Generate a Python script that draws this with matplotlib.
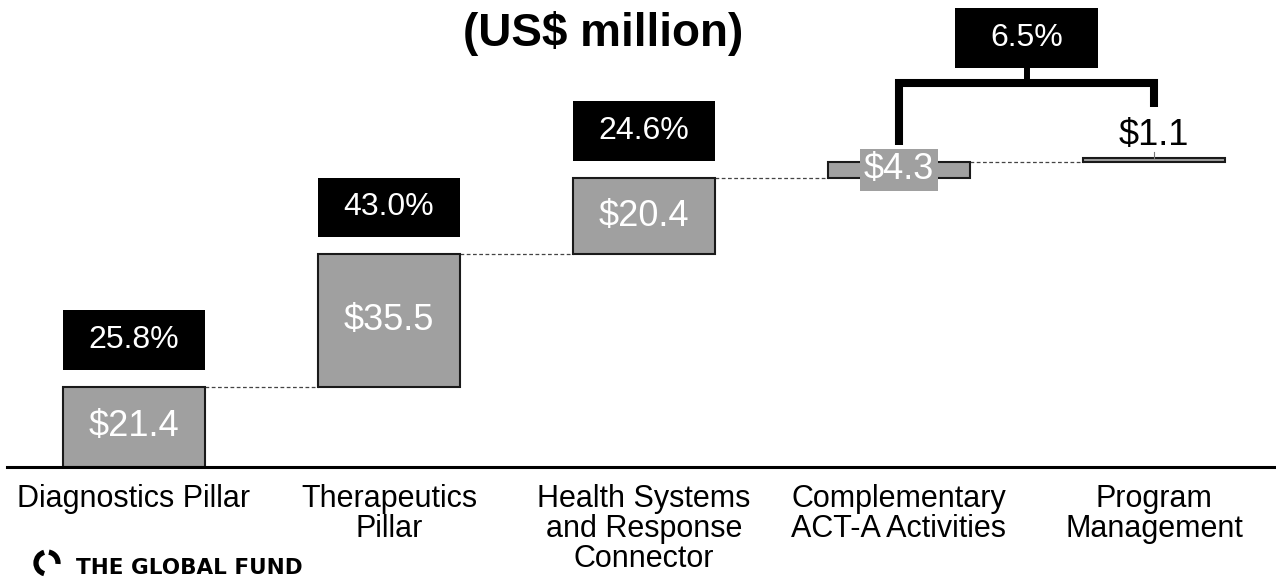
"""
Waterfall of the ACT-A allocation by component, in US$ million,
with the share of each component boxed above its bar.
"""

import matplotlib.pyplot as plt
from matplotlib.patches import Rectangle, Arc
import numpy as np

plt.rcParams['font.family'] = ['Liberation Sans', 'DejaVu Sans']

categories = ['Diagnostics Pillar', 'Therapeutics\nPillar',
              'Health Systems\nand Response\nConnector',
              'Complementary\nACT-A Activities', 'Program\nManagement']
values = [21.4, 35.5, 20.4, 4.3, 1.1]
shares = ['25.8%', '43.0%', '24.6%']
share_small = '6.5%'   # complementary activities + program management

gray = '#a0a0a0'

fig = plt.figure(figsize=(12.76, 5.78), dpi=100)
ax = fig.add_axes([0, 0, 1, 1])
ax.set_xlim(-134 / 255, (1276 - 134) / 255)
ax.set_ylim(-(578 - 467) / 3.74, 467 / 3.74)
ax.axis('off')

x = np.arange(len(values))
vals = np.array(values)
bottoms = np.concatenate([[0], np.cumsum(vals)[:-1]])
tops = bottoms + vals
total = tops[-1]
w = 0.557

ax.bar(x, vals, bottom=bottoms, width=w, color=gray, edgecolor='#1a1a1a',
       linewidth=1.5, zorder=2)

# dashed connectors between consecutive bars
for i in range(len(values) - 1):
    ax.plot([x[i] + w / 2, x[i + 1] - w / 2], [tops[i], tops[i]],
            ls=(0, (3, 2)), color='#444444', lw=0.9, zorder=1)

# baseline
ax.axhline(0, xmin=7 / 1276, color='black', lw=2.2, zorder=3)

# values inside the big bars
for i in range(3):
    ax.text(x[i], bottoms[i] + vals[i] / 2, f'${values[i]}', color='white',
            fontsize=26, ha='center', va='center', zorder=4)

# small bar: label sits on a gray patch over the bar
ax.text(x[3], bottoms[3] + vals[3] / 2, f'${values[3]}', color='white',
        fontsize=26, ha='center', va='center', zorder=4,
        bbox=dict(facecolor=gray, edgecolor='none', pad=2.5))

# tiny bar: label above with a short tick
ax.plot([x[4], x[4]], [tops[4], tops[4] + 1.6], color='#777777', lw=0.8, zorder=3)
ax.text(x[4], tops[4] + 3.4, f'${values[4]}', color='black', fontsize=26,
        ha='center', va='baseline', zorder=4)

# share boxes
box_h = 16
gap = 4.5
for i in range(3):
    ax.add_patch(Rectangle((x[i] - w / 2, tops[i] + gap), w, box_h,
                           facecolor='black', edgecolor='none', zorder=3))
    ax.text(x[i], tops[i] + gap + box_h / 2, shares[i], color='white',
            fontsize=23, ha='center', va='center', zorder=4)

# bracket joining the two small components
br_y = total + 20
ax.plot([x[3], x[3], x[4], x[4]],
        [tops[3] + 4.5, br_y, br_y, total + 13.6],
        color='black', lw=5.8, solid_joinstyle='miter', solid_capstyle='butt',
        zorder=3)
mid = (x[3] + x[4]) / 2
ax.plot([mid, mid], [br_y, br_y + 4], color='black', lw=4.3,
        solid_capstyle='butt', zorder=3)
ax.add_patch(Rectangle((mid - w / 2, br_y + 4), w, box_h,
                       facecolor='black', edgecolor='none', zorder=3))
ax.text(mid, br_y + 4 + box_h / 2, share_small, color='white', fontsize=23,
        ha='center', va='center', zorder=4)

# category names under the baseline
for i, name in enumerate(categories):
    ax.text(x[i], -4.5, name, fontsize=22, ha='center', va='top',
            linespacing=1.0)

fig.text(603 / 1276, 1 - 33 / 578, '(US$ million)', fontsize=33,
         fontweight='bold', ha='center', va='center')

# logo at the bottom left
fig.text(76 / 1276, 0.5 / 578, 'THE GLOBAL FUND', fontsize=15.5,
         family='DejaVu Sans', fontweight='bold', ha='left', va='bottom')
fig.add_artist(Arc((0.47, 0.15), 0.22, 0.22, theta1=105, theta2=255,
                   lw=3.8, color='black', transform=fig.dpi_scale_trans))
fig.add_artist(Arc((0.47, 0.15), 0.22, 0.22, theta1=-5, theta2=80,
                   lw=3.8, color='black', transform=fig.dpi_scale_trans))

fig.savefig('out.png', dpi=100)
